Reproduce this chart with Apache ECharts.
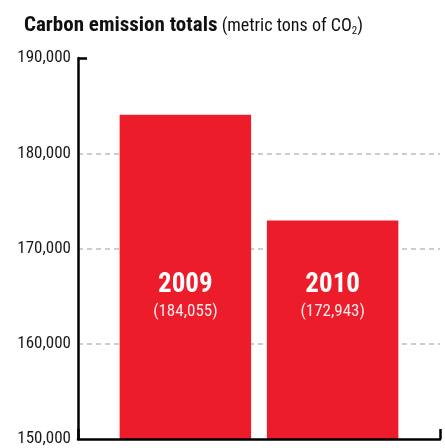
<!DOCTYPE html>
<html>
<head>
<meta charset="utf-8">
<script src="https://cdn.jsdelivr.net/npm/echarts@6/dist/echarts.min.js"></script>
<style>
  html, body { margin: 0; padding: 0; background: #fff; }
  #chart { width: 445px; height: 448px; }
</style>
</head>
<body>
<div id="chart"></div>
<script>
// Annual carbon emission totals, metric tons of CO2
const years = ['2009', '2010'];
const totals = [184055, 172943];

// Value axis range and step
const yMin = 150000;
const yMax = 190000;
const yStep = 10000;

const FONT = '"Roboto Condensed", "Open Sans Condensed", "DejaVu Sans Condensed", sans-serif';
const RED = '#ed1c2b';
const INK = '#111';

const fmt = v => v.toLocaleString('en-US');

const chart = echarts.init(document.getElementById('chart'), null, { renderer: 'canvas' });

const baseY = {
  type: 'value',
  min: yMin,
  max: yMax,
  interval: yStep,
  position: 'left'
};

chart.setOption({
  animation: false,
  backgroundColor: '#fff',
  textStyle: { fontFamily: FONT },
  title: {
    left: 19,
    top: 10,
    text: '{b|Carbon emission totals} {r|(metric tons of CO}{s|2}{r|)}',
    textStyle: {
      rich: {
        b: { fontFamily: FONT, fontWeight: 'bold', fontSize: 21, color: INK, lineHeight: 22 },
        r: { fontFamily: FONT, fontWeight: 'normal', fontSize: 18, color: INK, lineHeight: 22 },
        s: { fontFamily: FONT, fontWeight: 'normal', fontSize: 11, color: INK, lineHeight: 10, verticalAlign: 'bottom' }
      }
    }
  },
  grid: { left: 78, right: 5, top: 58, bottom: 9, containLabel: false },
  xAxis: {
    type: 'category',
    data: [''],
    z: 10,
    axisLine: { show: true, lineStyle: { color: '#000', width: 2.5 } },
    axisTick: { show: true, inside: true, length: 10, lineStyle: { color: '#000', width: 2.5 } },
    axisLabel: { show: false },
    splitLine: { show: false }
  },
  yAxis: [
    // main value axis: line and labels, drawn above the bars
    Object.assign({}, baseY, {
      z: 10,
      axisLine: { show: true, lineStyle: { color: '#000', width: 2.5 } },
      axisTick: { show: false },
      axisLabel: {
        fontFamily: FONT,
        fontSize: 17,
        color: '#1a1a1a',
        margin: 7,
        padding: [3, 0, 0, 0],
        formatter: v => fmt(v)
      },
      splitLine: { show: false }
    }),
    // dashed gridlines, kept behind the bars
    Object.assign({}, baseY, {
      z: 0,
      axisLine: { show: false },
      axisTick: { show: false },
      axisLabel: { show: false },
      splitLine: {
        show: true,
        showMinLine: false,
        showMaxLine: false,
        lineStyle: { color: '#bdbdbd', width: 1.5, type: [5, 4] }
      }
    }),
    // short cap at the top of the value axis
    Object.assign({}, baseY, {
      z: 10,
      axisLine: { show: false },
      axisLabel: { show: false },
      splitLine: { show: false },
      axisTick: {
        show: true,
        inside: true,
        length: 9,
        customValues: [yMax],
        lineStyle: { color: '#000', width: 2.5 }
      }
    })
  ],
  series: years.map((yr, i) => ({
    name: yr,
    type: 'bar',
    data: [totals[i]],
    barGap: '12%',
    barCategoryGap: '23%',
    itemStyle: { color: RED },
    z: 3,
    label: {
      show: true,
      position: 'insideBottom',
      distance: 117,
      align: 'center',
      formatter: p => '{y|' + p.seriesName + '}\n{v|(' + fmt(p.value) + ')}',
      rich: {
        y: { fontFamily: FONT, fontWeight: 'bold', fontSize: 27, color: '#fff', lineHeight: 34, align: 'center' },
        v: { fontFamily: FONT, fontSize: 17, color: 'rgba(255,255,255,0.9)', lineHeight: 20, align: 'center' }
      }
    }
  }))
});
</script>
</body>
</html>
